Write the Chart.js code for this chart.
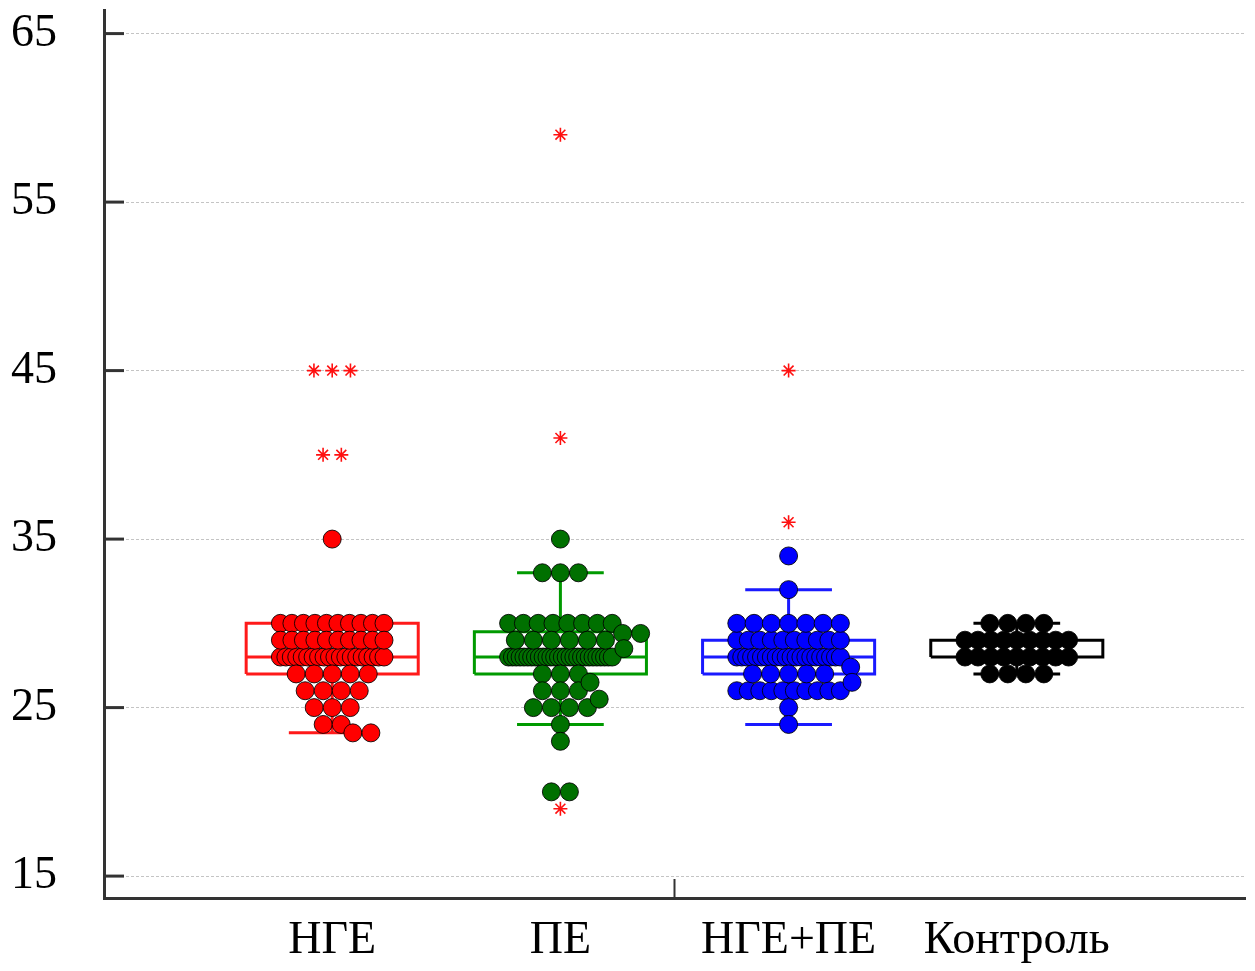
<!DOCTYPE html>
<html>
<head>
<meta charset="utf-8">
<script src="https://cdn.jsdelivr.net/npm/chart.js@4.4.1/dist/chart.umd.min.js"></script>
<style>
  html, body { margin: 0; padding: 0; background: #fff; }
  #wrap { width: 1255px; height: 971px; position: relative; }
</style>
</head>
<body>
<div id="wrap"><canvas id="dotplot_canvas"></canvas></div>
<script>
const groups = ['НГЕ', 'ПЕ', 'НГЕ+ПЕ', 'Контроль'];

const ngeLevels = [35, 30, 29, 28, 27, 26, 25, 24, 23.5];
const ngeCounts = [1, 10, 10, 20, 5, 4, 3, 2, 2];
const ngeOutliers = [45, 45, 45, 40, 40];

const peLevels = [35, 33, 30, 29.4, 29, 28.5, 28, 27, 26.5, 26, 25.5, 25, 24, 23, 20];
const peCounts = [1, 3, 8, 2, 6, 1, 28, 3, 1, 3, 1, 4, 1, 1, 2];
const peOutliers = [59, 41, 19];

const bothLevels = [34, 32, 30, 29, 28, 27.4, 27, 26.5, 26, 25, 24];
const bothCounts = [1, 1, 7, 10, 22, 1, 5, 1, 10, 1, 1];
const bothOutliers = [45, 36];

const ctrlLevels = [30, 29, 28, 27];
const ctrlCounts = [4, 9, 9, 4];
const ctrlOutliers = [];

// Boxplot-Kennwerte
const q1 = [27, 27, 27, 28];
const median = [28, 28, 28, 28];
const q3 = [30, 29.5, 29, 29];
const whiskerLow = [23.5, 24, 24, 27];
const whiskerHigh = [30, 33, 32, 30];

const yTicks = [15, 25, 35, 45, 55, 65];

// Farben
const dotColors = ['#ff0000', '#007000', '#0000ff', '#000000'];
const boxColors = ['#ff1a1a', '#009a00', '#1a1aff', '#000000'];

// Layout der Punkte (in Achseneinheiten)
const DOT_W = 0.078;   // Punktdurchmesser in x
const DOT_H = 1.05;    // Punktdurchmesser in y
const STEP = 0.079;
const HALF = 0.227;

function swarm(center, levels, counts) {
  const rows = levels.map((v, i) => ({ v, n: counts[i] })).sort((a, b) => b.n - a.n);
  const placed = [];
  rows.forEach(r => {
    const step = r.n > 1 ? Math.min(STEP, 2 * HALF / (r.n - 1)) : 0;
    const base = [];
    for (let k = 0; k < r.n; k++) base.push((k - (r.n - 1) / 2) * step);
    let off = 0;
    for (let t = 0; t < 400; t++) {
      off = (t % 2 ? 1 : -1) * Math.ceil(t / 2) * 0.002;
      const ok = base.every(b => placed.every(p =>
        p.y === r.v || Math.hypot((center + b + off - p.x) / DOT_W, (r.v - p.y) / DOT_H) >= 0.8));
      if (ok) break;
    }
    base.forEach(b => placed.push({ x: center + b + off, y: r.v }));
  });
  return placed;
}

function starRow(center, values) {
  const levels = [...new Set(values)];
  const out = [];
  levels.forEach(v => {
    const n = values.filter(w => w === v).length;
    for (let k = 0; k < n; k++) out.push({ x: center + (k - (n - 1) / 2) * 0.08, y: v });
  });
  return out;
}

function boxPath(i) {
  const c = i + 1, h = 0.377, w = 0.19;
  const gap = { x: c, y: null };
  return [
    { x: c - h, y: q1[i] }, { x: c + h, y: q1[i] }, { x: c + h, y: q3[i] }, { x: c - h, y: q3[i] }, { x: c - h, y: q1[i] }, gap,
    { x: c - h, y: median[i] }, { x: c + h, y: median[i] }, gap,
    { x: c, y: q1[i] }, { x: c, y: whiskerLow[i] }, gap,
    { x: c - w, y: whiskerLow[i] }, { x: c + w, y: whiskerLow[i] }, gap,
    { x: c, y: q3[i] }, { x: c, y: whiskerHigh[i] }, gap,
    { x: c - w, y: whiskerHigh[i] }, { x: c + w, y: whiskerHigh[i] }
  ];
}

const levelSets = [ngeLevels, peLevels, bothLevels, ctrlLevels];
const countSets = [ngeCounts, peCounts, bothCounts, ctrlCounts];
const outlierSets = [ngeOutliers, peOutliers, bothOutliers, ctrlOutliers];

const datasets = [];
groups.forEach((g, i) => {
  datasets.push({
    label: g + ' box',
    data: boxPath(i),
    showLine: true,
    spanGaps: false,
    borderColor: boxColors[i],
    borderWidth: 3,
    borderJoinStyle: 'miter',
    pointRadius: 0,
    order: 3
  });
  datasets.push({
    label: g,
    data: swarm(i + 1, levelSets[i], countSets[i]),
    backgroundColor: dotColors[i],
    borderColor: 'rgba(0,0,0,0.85)',
    borderWidth: 1,
    pointRadius: 9,
    order: 2
  });
  datasets.push({
    label: g + ' outliers',
    data: starRow(i + 1, outlierSets[i]),
    pointStyle: 'star',
    borderColor: '#ff1010',
    backgroundColor: '#ff1010',
    borderWidth: 1.6,
    pointRadius: 7,
    order: 1
  });
});

const serif = { family: "'Liberation Serif', 'Times New Roman', serif", size: 46 };

// kleine Striche innen an der Achse
const innerTicks = {
  id: 'innerTicks',
  afterDraw(chart) {
    const { ctx, chartArea: a } = chart;
    const { x, y } = chart.scales;
    ctx.save();
    ctx.strokeStyle = '#333';
    ctx.lineWidth = 3;
    yTicks.forEach(v => {
      const py = y.getPixelForValue(v);
      ctx.beginPath();
      ctx.moveTo(a.left, py);
      ctx.lineTo(a.left + 20, py);
      ctx.stroke();
    });
    ctx.lineWidth = 2;
    const px = x.getPixelForValue(2.5);
    ctx.beginPath();
    ctx.moveTo(px, a.bottom);
    ctx.lineTo(px, a.bottom - 19);
    ctx.stroke();
    ctx.restore();
  }
};

const ctx = document.getElementById('dotplot_canvas');
new Chart(ctx, {
  type: 'scatter',
  data: { datasets },
  options: {
    responsive: true,
    maintainAspectRatio: false,
    animation: false,
    layout: { padding: { top: 10, right: 5, left: 0, bottom: 0 } },
    plugins: { legend: { display: false }, tooltip: { enabled: false } },
    scales: {
      x: {
        type: 'linear',
        min: 0,
        max: 5,
        grid: { display: false, drawTicks: false },
        border: { color: '#333', width: 3 },
        afterBuildTicks: s => { s.ticks = groups.map((g, i) => ({ value: i + 1 })); },
        ticks: {
          callback: v => groups[v - 1] || '',
          font: serif,
          color: '#000',
          padding: 15,
          maxRotation: 0,
          autoSkip: false
        },
        afterFit: s => {
          s.height = 73;
          s.paddingLeft = 0; s.paddingRight = 0; s.paddingTop = 0; s.paddingBottom = 0;
        }
      },
      y: {
        min: 13.7,
        max: 66.4,
        afterBuildTicks: s => { s.ticks = yTicks.map(v => ({ value: v })); },
        grid: { color: '#c4c4c4', lineWidth: 1, drawTicks: false },
        border: { color: '#333', width: 3, dash: [3, 2] },
        ticks: { font: serif, color: '#000', padding: 47 },
        afterFit: s => {
          s.width = 104;
          s.paddingTop = 0; s.paddingBottom = 0; s.paddingLeft = 0; s.paddingRight = 0;
        }
      }
    }
  },
  plugins: [innerTicks]
});
</script>
</body>
</html>
